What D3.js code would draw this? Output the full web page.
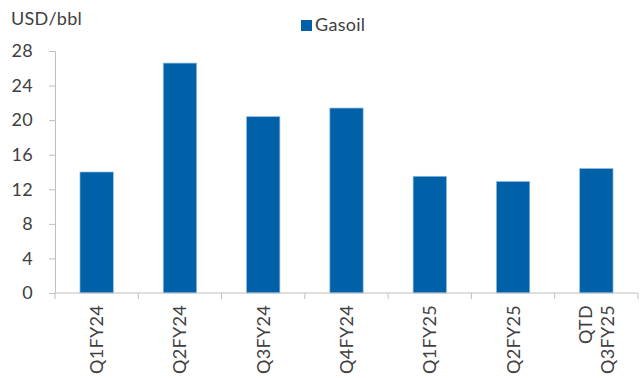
<!DOCTYPE html>
<html>
<head>
<meta charset="utf-8">
<script src="https://cdn.jsdelivr.net/npm/d3@7"></script>
<style>
  html, body { margin: 0; padding: 0; background: #ffffff; }
  svg { display: block; font-family: Lato, "Open Sans", sans-serif; }
  .lbl { font-size: 18px; letter-spacing: 0.3px; }
</style>
</head>
<body>
<svg id="chart" width="642" height="378"></svg>
<script>
// Gasoil cracks by quarter (USD/bbl)
const categories = [["Q1FY24"], ["Q2FY24"], ["Q3FY24"], ["Q4FY24"], ["Q1FY25"], ["Q2FY25"], ["QTD", "Q3FY25"]];
const gasoil = [14.0, 26.6, 20.4, 21.4, 13.5, 12.9, 14.4];
const yTicks = [0, 4, 8, 12, 16, 20, 24, 28];
const seriesName = "Gasoil";
const unitLabel = "USD/bbl";

const svg = d3.select("#chart");
const margin = { left: 55, right: 4, top: 51, bottom: 85 };
const W = 642, H = 378;
const axisColor = "#bfbfbf", textColor = "#404040", barColor = "#0060a8";

const keys = categories.map(c => c.join(" "));
const x = d3.scaleBand().domain(keys).range([margin.left, W - margin.right]).padding(0);
const y = d3.scaleLinear().domain([0, 28]).range([H - margin.bottom, margin.top]);

// Y axis
const yAxis = svg.append("g")
  .attr("transform", `translate(${margin.left},0)`)
  .call(d3.axisLeft(y).tickValues(yTicks).tickSize(6).tickPadding(16).tickFormat(d3.format("d")));
yAxis.select(".domain").attr("stroke", axisColor);
yAxis.selectAll(".tick line").attr("stroke", axisColor);
yAxis.selectAll(".tick text").attr("fill", textColor).attr("class", "lbl").style("font-family", "Lato");

// Bars
const barW = x.bandwidth() * 0.4;
svg.append("g").selectAll("rect")
  .data(gasoil)
  .join("rect")
  .attr("x", (d, i) => x(keys[i]) + (x.bandwidth() - barW) / 2)
  .attr("y", d => y(d))
  .attr("width", barW)
  .attr("height", d => y(0) - y(d))
  .attr("fill", barColor)
  .attr("stroke", "#8dbbe2")
  .attr("stroke-width", 0.7);

// X axis: line and boundary ticks
const x0 = y(0);
svg.append("line")
  .attr("x1", margin.left).attr("x2", W - margin.right)
  .attr("y1", x0).attr("y2", x0)
  .attr("stroke", axisColor);
const bounds = keys.map(k => x(k)).concat([x(keys[keys.length - 1]) + x.bandwidth()]);
svg.append("g").selectAll("line")
  .data(bounds)
  .join("line")
  .attr("x1", d => d).attr("x2", d => d)
  .attr("y1", x0).attr("y2", x0 + 6)
  .attr("stroke", axisColor);

// Rotated category labels
const lineH = 22;
const labels = svg.append("g").selectAll("g")
  .data(categories)
  .join("g")
  .attr("transform", (c, i) => `translate(${x(keys[i]) + x.bandwidth() / 2},${x0 + 12}) rotate(-90)`);
labels.each(function (lines) {
  const g = d3.select(this);
  lines.forEach((t, j) => {
    const off = (j - (lines.length - 1) / 2) * lineH;
    g.append("text")
      .attr("class", "lbl")
      .attr("x", 0)
      .attr("y", off)
      .attr("dy", "0.36em")
      .attr("text-anchor", "end")
      .attr("fill", textColor)
      .text(t);
  });
});

// Unit label
svg.append("text")
  .attr("class", "lbl")
  .attr("x", 11).attr("y", 24.5)
  .attr("fill", textColor)
  .text(unitLabel);

// Legend
svg.append("rect")
  .attr("x", 301).attr("y", 20)
  .attr("width", 11).attr("height", 11)
  .attr("fill", barColor);
svg.append("text")
  .attr("class", "lbl")
  .attr("x", 315).attr("y", 31)
  .attr("fill", textColor)
  .text(seriesName);
</script>
</body>
</html>
